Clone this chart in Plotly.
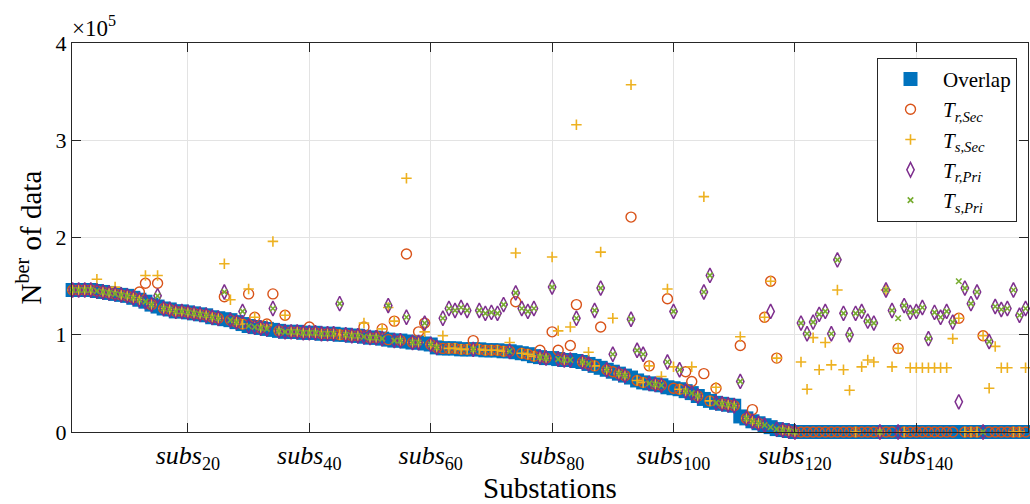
import plotly.graph_objects as go

# Substation index 1..158
subs = list(range(1, 159))

# Values in thousands of data points (axis shows x10^5)
overlap = [146,146,146,146,145,144,143,142,141,140,
           138,136,134,131,129,127,126,124,124,123,
           122,121,120,118,117,116,115,113,111,109,
           108,107,106,105,104,103,103,103,102,102,
           102,101,101,101,100,100,99,99,98,97,
           97,96,95,94,94,93,92,92,91,90,
           87,86,86,86,85,85,85,85,84,84,
           84,83,83,82,81,80,78,77,76,76,
           75,74,74,73,72,70,68,66,64,62,
           60,58,56,53,51,50,49,48,46,45,
           44,42,40,37,34,32,30,29,28,27,
           16,14,11,9,7,5,3,2,1,0,
           0,0,0,0,0,0,0,0,0,0,
           0,0,0,0,0,0,0,0,0,0,
           0,0,0,0,0,0,0,0,0,0,
           0,0,0,0,0,0,0,0]

tr_sec = [146,146,146,146,145,144,143,142,141,140,
          138,144,153,131,153,127,126,124,124,123,
          122,121,120,118,117,139,115,113,111,142,
          118,107,111,142,104,120,103,103,102,108,
          102,101,101,101,100,100,99,99,108,97,
          97,106,95,114,94,183,92,103,112,90,
          87,86,86,86,85,85,94,85,84,84,
          84,83,83,134,81,80,78,84,76,103,
          84,74,89,131,72,70,68,108,64,62,
          60,58,221,53,51,68,49,48,137,45,
          44,62,52,37,60,32,45,29,28,27,
          89,14,23,9,118,155,76,2,1,0,
          0,0,0,0,0,0,0,0,0,0,
          0,0,0,0,0,0,86,0,0,0,
          0,0,0,0,0,0,117,0,0,0,
          99,0,0,0,0,0,0,0]

ts_sec = [146,146,146,146,157,144,143,149,141,140,
          138,136,161,131,161,127,126,124,124,123,
          122,121,120,118,117,173,136,113,111,147,
          118,107,110,196,104,120,103,103,102,102,
          102,101,101,101,100,100,99,99,112,97,
          97,106,128,114,94,261,92,92,103,90,
          87,99,86,86,85,85,85,85,84,84,
          84,83,92,184,81,80,78,77,76,180,
          104,74,108,316,72,82,68,185,64,117,
          60,58,357,53,51,68,49,57,147,67,
          44,42,67,37,242,32,46,29,28,27,
          98,14,11,9,118,155,76,2,1,0,
          72,44,97,64,92,69,146,64,43,0,
          67,74,72,0,146,67,86,0,66,66,
          66,66,66,66,66,96,117,0,0,0,
          99,45,88,66,66,0,0,66]

tr_pri = [146,146,146,146,145,144,143,142,141,140,
          138,136,134,131,140,127,126,124,124,123,
          122,121,120,118,117,144,115,113,124,109,
          108,107,106,127,104,103,103,103,102,102,
          102,101,101,101,132,100,99,99,98,97,
          97,96,130,94,94,118,92,92,112,90,
          87,117,127,125,128,125,85,125,122,123,
          122,131,83,143,127,124,127,77,76,149,
          75,74,74,117,72,70,125,148,64,80,
          60,58,116,84,80,50,49,48,72,124,
          64,42,40,37,144,161,30,29,28,27,
          52,14,11,9,7,124,3,2,1,0,
          112,101,113,121,124,101,177,122,100,122,
          124,114,112,0,146,125,0,130,123,124,
          128,96,123,118,124,113,31,148,132,144,
          0,93,129,126,127,146,120,127]

ts_pri = [146,146,146,146,145,144,143,142,141,140,
          138,136,134,131,140,127,126,124,124,123,
          122,121,120,118,117,144,115,113,124,109,
          108,107,106,127,104,103,103,103,102,102,
          102,101,101,101,132,100,99,99,98,97,
          97,96,130,94,94,118,92,92,112,90,
          87,117,127,125,128,125,85,125,122,123,
          122,131,83,143,127,124,127,77,76,149,
          75,74,74,117,72,70,125,148,64,80,
          60,58,116,84,80,50,49,48,72,124,
          64,42,40,37,144,161,30,29,28,27,
          52,14,11,9,7,5,3,2,1,0,
          112,101,113,121,124,101,177,122,100,122,
          124,114,112,0,146,125,117,130,123,124,
          128,96,123,118,124,113,155,148,132,144,
          0,93,129,126,127,146,120,127]

x_tick_vals = [20, 40, 60, 80, 100, 120, 140]
x_tick_text = [f"<i>subs</i><sub>{v}</sub>" for v in x_tick_vals]
y_tick_vals = [0, 100, 200, 300, 400]
y_tick_text = ["0", "1", "2", "3", "4"]

FONT = "Liberation Serif"
AX = "#262626"
GRID = "#E3E3E3"

fig = go.Figure()
fig.add_trace(go.Scatter(x=subs, y=overlap, mode="markers", name="Overlap",
                         marker=dict(symbol="square", size=14, color="#0072BD",
                                     line=dict(width=0)), cliponaxis=False))
fig.add_trace(go.Scatter(x=subs, y=tr_sec, mode="markers",
                         name="<i>T</i><sub><i>r,Sec</i></sub>",
                         marker=dict(symbol="circle-open", size=10, color="#D95319",
                                     line=dict(width=1.4, color="#D95319")), cliponaxis=False))
fig.add_trace(go.Scatter(x=subs, y=ts_sec, mode="markers",
                         name="<i>T</i><sub><i>s,Sec</i></sub>",
                         marker=dict(symbol="cross-thin-open", size=7.5, color="#EDB120",
                                     line=dict(width=1.6, color="#EDB120")), cliponaxis=False))
fig.add_trace(go.Scatter(x=subs, y=tr_pri, mode="markers",
                         name="<i>T</i><sub><i>r,Pri</i></sub>",
                         marker=dict(symbol="diamond-tall-open", size=10.5, color="#7E2F8E",
                                     line=dict(width=1.5, color="#7E2F8E")), cliponaxis=False))
fig.add_trace(go.Scatter(x=subs, y=ts_pri, mode="markers",
                         name="<i>T</i><sub><i>s,Pri</i></sub>",
                         marker=dict(symbol="x-thin-open", size=5.5, color="#77AC30",
                                     line=dict(width=1.6, color="#77AC30")), cliponaxis=False))

fig.update_layout(
    width=1030, height=504,
    margin=dict(l=72, r=2, t=43, b=72),
    paper_bgcolor="white", plot_bgcolor="white",
    font=dict(family=FONT, size=20, color=AX),
    showlegend=True,
    legend=dict(x=0.9885, y=0.962, xanchor="right", yanchor="top",
                bgcolor="white", bordercolor=AX, borderwidth=1,
                font=dict(family=FONT, size=21, color="black"),
                tracegroupgap=0, itemwidth=55),
    xaxis=dict(range=[0.9, 158.4], tickmode="array", tickvals=x_tick_vals,
               ticktext=x_tick_text, ticks="inside", ticklen=9, tickcolor=AX,
               showline=True, linecolor=AX, linewidth=1, mirror="ticks",
               showgrid=True, gridcolor=GRID, gridwidth=1, zeroline=False,
               tickfont=dict(family=FONT, size=26, color="black")),
    yaxis=dict(range=[0, 400], tickmode="array", tickvals=y_tick_vals,
               ticktext=y_tick_text, ticks="inside", ticklen=9, tickcolor=AX,
               showline=True, linecolor=AX, linewidth=1, mirror="ticks",
               showgrid=True, gridcolor=GRID, gridwidth=1, zeroline=False,
               tickfont=dict(family=FONT, size=22, color="black")),
    annotations=[
        dict(text="×10<sup>5</sup>", xref="paper", yref="paper", x=-0.002, y=1.0,
             xanchor="left", yanchor="bottom", showarrow=False,
             font=dict(family=FONT, size=23, color="black")),
        dict(text="N<sup>ber</sup> of data", xref="paper", yref="paper",
             x=-0.046, y=0.5, xanchor="center", yanchor="middle", textangle=-90,
             showarrow=False, font=dict(family=FONT, size=29, color="black")),
        dict(text="Substations", xref="paper", yref="paper", x=0.5, y=-0.144,
             xanchor="center", yanchor="middle", showarrow=False,
             font=dict(family=FONT, size=29, color="black")),
    ],
)

fig.write_html("out.html", config={"displayModeBar": False},
               post_script="document.body.style.margin='0';document.body.style.padding='0';")
